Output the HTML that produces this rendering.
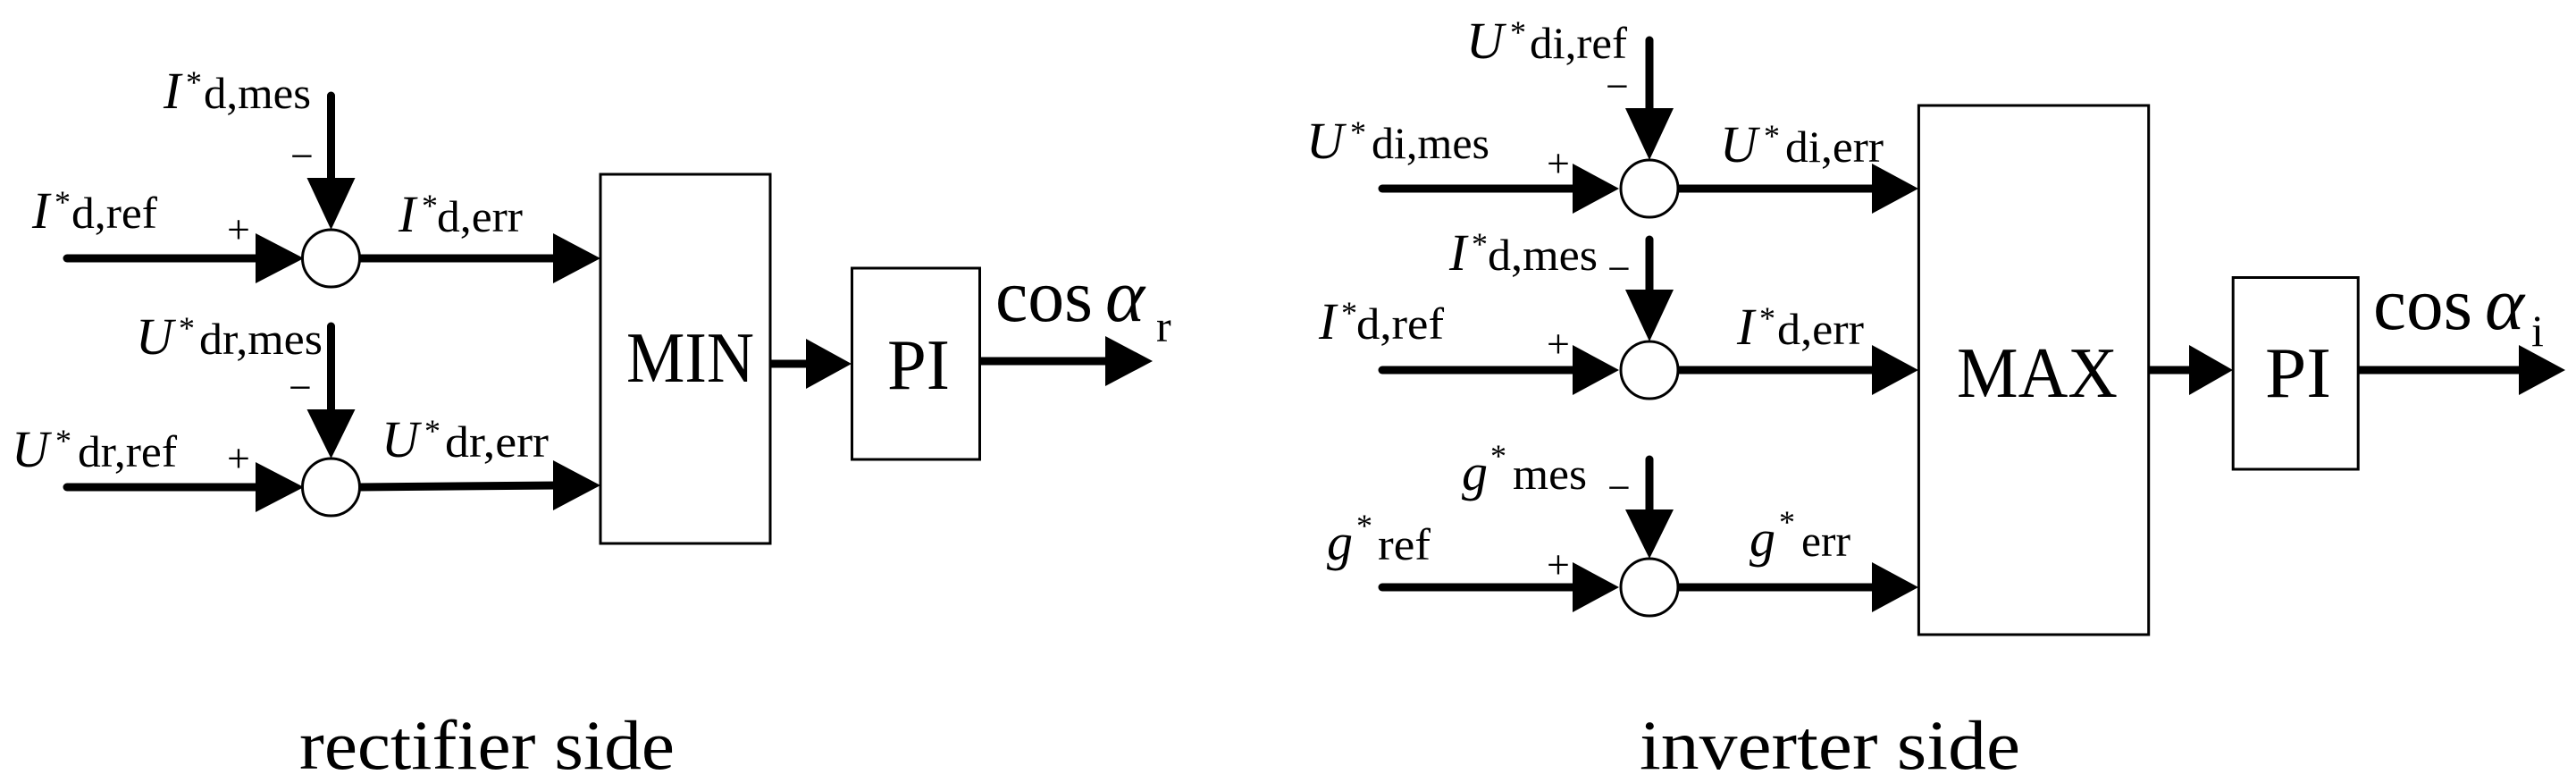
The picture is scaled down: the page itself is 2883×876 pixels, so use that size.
<!DOCTYPE html>
<html><head><meta charset="utf-8"><style>
html,body{margin:0;padding:0;background:#fff;}
svg{display:block;}
text{font-family:"Liberation Serif",serif;fill:#000;}
.m{font-style:italic;font-size:58px;}
.s{font-size:50px;}
.st{font-size:36px;}
</style></head><body>
<svg width="2883" height="876" viewBox="0 0 2883 876" xmlns="http://www.w3.org/2000/svg">
<g stroke="#000" stroke-width="9" stroke-linecap="round" fill="none">
<!-- left -->
<line x1="75" y1="289" x2="290" y2="289"/>
<line x1="370.5" y1="107" x2="370.5" y2="205"/>
<line x1="402" y1="289" x2="625" y2="289"/>
<line x1="75" y1="545" x2="290" y2="545"/>
<line x1="370.5" y1="365" x2="370.5" y2="462"/>
<line x1="402" y1="545" x2="625" y2="543"/>
<line x1="862" y1="407" x2="905" y2="407"/>
<line x1="1097" y1="404" x2="1240" y2="404"/>
<!-- right -->
<line x1="1547" y1="211" x2="1762" y2="211"/>
<line x1="1846" y1="45" x2="1846" y2="125"/>
<line x1="1878" y1="211" x2="2100" y2="211"/>
<line x1="1547" y1="414" x2="1762" y2="414"/>
<line x1="1846" y1="268" x2="1846" y2="328"/>
<line x1="1878" y1="414" x2="2100" y2="414"/>
<line x1="1547" y1="657" x2="1762" y2="657"/>
<line x1="1846" y1="514" x2="1846" y2="574"/>
<line x1="1878" y1="657" x2="2100" y2="657"/>
<line x1="2405" y1="414" x2="2452" y2="414"/>
<line x1="2639" y1="414" x2="2822" y2="414"/>
</g>
<g fill="#000">
<!-- left arrows -->
<polygon points="286,261 340,289 286,317"/>
<polygon points="343.5,199 397.5,199 370.5,257"/>
<polygon points="619,261 672,289 619,317"/>
<polygon points="286,517 340,545 286,573"/>
<polygon points="343.5,458 397.5,458 370.5,513"/>
<polygon points="619,515 672,543 619,571"/>
<polygon points="902,379 953,407 902,435"/>
<polygon points="1237,376 1290,404 1237,432"/>
<!-- right arrows -->
<polygon points="1760,183 1812,211 1760,239"/>
<polygon points="1819,121 1873,121 1846,179"/>
<polygon points="2095,183 2147,211 2095,239"/>
<polygon points="1760,386 1812,414 1760,442"/>
<polygon points="1819,324 1873,324 1846,382"/>
<polygon points="2095,386 2147,414 2095,442"/>
<polygon points="1760,629 1812,657 1760,685"/>
<polygon points="1819,570 1873,570 1846,625"/>
<polygon points="2095,629 2147,657 2095,685"/>
<polygon points="2450,386 2499,414 2450,442"/>
<polygon points="2819,386 2871,414 2819,442"/>
</g>
<g stroke="#000" stroke-width="3" fill="#fff">
<circle cx="370.5" cy="289" r="32"/>
<circle cx="370.5" cy="545" r="32"/>
<circle cx="1846" cy="211" r="32"/>
<circle cx="1846" cy="414" r="32"/>
<circle cx="1846" cy="657" r="32"/>
<rect x="672" y="195" width="190" height="413"/>
<rect x="953.5" y="300" width="143" height="214"/>
<rect x="2147.4" y="118" width="257.3" height="592"/>
<rect x="2499.2" y="310.5" width="140" height="214.5"/>
</g>

<!-- box labels -->
<text x="701" y="427" font-size="80" textLength="143" lengthAdjust="spacingAndGlyphs">MIN</text>
<text x="993" y="435" font-size="80" textLength="70" lengthAdjust="spacingAndGlyphs">PI</text>
<text x="2190" y="444" font-size="80" textLength="180" lengthAdjust="spacingAndGlyphs">MAX</text>
<text x="2535" y="444" font-size="80" textLength="74" lengthAdjust="spacingAndGlyphs">PI</text>

<!-- cos alpha -->
<text x="1114" y="359" font-size="84" textLength="109" lengthAdjust="spacingAndGlyphs">cos</text>
<text x="1237" y="359" font-size="84" font-style="italic">α</text>
<text x="1294" y="382" font-size="50">r</text>
<text x="2656" y="368" font-size="84" textLength="111" lengthAdjust="spacingAndGlyphs">cos</text>
<text x="2781" y="368" font-size="84" font-style="italic">α</text>
<text x="2833" y="387" font-size="50">i</text>

<!-- signs -->
<g font-size="46">
<text x="254" y="272">+</text>
<text x="325" y="190">−</text>
<text x="254" y="528">+</text>
<text x="323" y="449">−</text>
<text x="1731" y="198">+</text>
<text x="1797" y="112">−</text>
<text x="1731" y="400">+</text>
<text x="1799" y="316">−</text>
<text x="1731" y="647">+</text>
<text x="1799" y="561">−</text>
</g>

<!-- left labels -->
<text class="m" x="183" y="121">I</text><text class="st" x="208" y="104">*</text><text class="s" x="228" y="121" textLength="120" lengthAdjust="spacingAndGlyphs">d,mes</text>
<text class="m" x="36" y="255">I</text><text class="st" x="61" y="238">*</text><text class="s" x="80" y="255" textLength="96" lengthAdjust="spacingAndGlyphs">d,ref</text>
<text class="m" x="446" y="259">I</text><text class="st" x="472" y="242">*</text><text class="s" x="489" y="259" textLength="96" lengthAdjust="spacingAndGlyphs">d,err</text>
<text class="m" x="152" y="396">U</text><text class="st" x="200" y="379">*</text><text class="s" x="223" y="396" textLength="138" lengthAdjust="spacingAndGlyphs">dr,mes</text>
<text class="m" x="13" y="522">U</text><text class="st" x="62" y="505">*</text><text class="s" x="87" y="522" textLength="111" lengthAdjust="spacingAndGlyphs">dr,ref</text>
<text class="m" x="427" y="511">U</text><text class="st" x="475" y="494">*</text><text class="s" x="498" y="511" textLength="116" lengthAdjust="spacingAndGlyphs">dr,err</text>

<!-- right labels -->
<text class="m" x="1641" y="65">U</text><text class="st" x="1690" y="48">*</text><text class="s" x="1712" y="65" textLength="109" lengthAdjust="spacingAndGlyphs">di,ref</text>
<text class="m" x="1462" y="177">U</text><text class="st" x="1511" y="160">*</text><text class="s" x="1535" y="177" textLength="132" lengthAdjust="spacingAndGlyphs">di,mes</text>
<text class="m" x="1925" y="181">U</text><text class="st" x="1974" y="164">*</text><text class="s" x="1998" y="181" textLength="110" lengthAdjust="spacingAndGlyphs">di,err</text>
<text class="m" x="1622" y="302">I</text><text class="st" x="1647" y="285">*</text><text class="s" x="1665" y="302" textLength="123" lengthAdjust="spacingAndGlyphs">d,mes</text>
<text class="m" x="1476" y="379">I</text><text class="st" x="1501" y="362">*</text><text class="s" x="1518" y="379" textLength="98" lengthAdjust="spacingAndGlyphs">d,ref</text>
<text class="m" x="1944" y="385">I</text><text class="st" x="1969" y="368">*</text><text class="s" x="1989" y="385" textLength="97" lengthAdjust="spacingAndGlyphs">d,err</text>
<text class="m" x="1636" y="548">g</text><text class="st" x="1668" y="522">*</text><text class="s" x="1693" y="547" textLength="83" lengthAdjust="spacingAndGlyphs">mes</text>
<text class="m" x="1485" y="626">g</text><text class="st" x="1518" y="600">*</text><text class="s" x="1542" y="626" textLength="59" lengthAdjust="spacingAndGlyphs">ref</text>
<text class="m" x="1958" y="622">g</text><text class="st" x="1991" y="596">*</text><text class="s" x="2016" y="622" textLength="55" lengthAdjust="spacingAndGlyphs">err</text>

<!-- captions -->
<text x="335" y="860" font-size="78" textLength="420" lengthAdjust="spacingAndGlyphs">rectifier side</text>
<text x="1835" y="860" font-size="78" textLength="426" lengthAdjust="spacingAndGlyphs">inverter side</text>
</svg>
</body></html>
